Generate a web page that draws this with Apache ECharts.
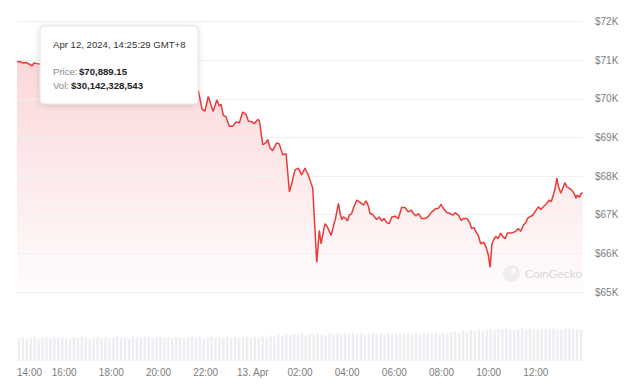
<!DOCTYPE html>
<html>
<head>
<meta charset="utf-8">
<script src="https://cdn.jsdelivr.net/npm/echarts@6/dist/echarts.min.js"></script>
<style>
html,body{margin:0;padding:0;background:#fff;}
#chart{width:644px;height:392px;}
</style>
</head>
<body>
<div id="chart"></div>
<script>
// Hours elapsed since Apr 12, 14:00 (GMT+8)
const hours = [
  0.00,0.13,0.25,0.38,0.51,0.64,0.72,0.85,0.98,
  1.20,1.50,1.80,2.10,2.40,2.70,3.00,3.30,3.60,3.90,4.20,4.50,4.80,5.10,5.40,5.70,6.00,6.30,6.60,6.90,7.20,7.50,
  7.69,7.85,7.97,8.11,8.32,8.47,8.58,8.65,8.75,8.86,9.00,9.15,9.29,9.43,9.57,9.71,9.81,9.95,10.06,10.21,10.28,
  10.42,10.56,10.63,10.73,10.84,11.01,11.12,11.27,11.41,11.55,11.65,11.79,11.93,12.07,12.21,12.35,12.54,
  12.71,12.82,12.89,13.06,13.16,13.32,13.46,13.49,13.63,13.70,13.77,13.84,13.95,14.01,14.09,14.19,14.26,
  14.41,14.55,14.69,14.80,14.90,14.97,15.08,15.25,15.36,15.47,15.56,15.68,15.79,15.89,16.03,16.17,16.31,
  16.45,16.59,16.71,16.81,16.92,17.02,17.16,17.30,17.42,17.59,17.77,17.87,17.98,18.08,18.22,18.36,18.48,
  18.58,18.72,18.83,18.93,19.07,19.18,19.28,19.38,19.47,19.56,19.66,19.78,19.89,19.99,20.06,20.14,20.23,
  20.31,20.40,20.51,20.60,20.70,20.79,20.98,21.16,21.26,21.36,21.47,21.59,21.64,21.73,21.87,22.01,22.11,
  22.21,22.32,22.46,22.57,22.65,22.74,22.82,22.89,22.96,23.06,23.14,23.23,23.31,23.42,23.52,23.62,23.71,
  23.76,23.85,23.92,23.99
];
const prices = [
  70950,70965,70925,70940,70900,70855,70925,70910,70900,
  70890,70850,70910,70820,70760,70800,70720,70650,70700,70610,70560,70620,70540,70480,70520,70430,70380,70450,70360,70300,70340,70240,
  70206,69728,69684,70060,69668,69971,69815,69859,69572,69538,69292,69292,69397,69381,69658,69598,69423,69407,69355,69467,69423,
  68815,68859,68945,68728,68658,68859,68833,68553,68580,67595,67815,68162,68206,68031,68206,68031,67684,
  65768,66595,66248,66770,66681,66465,66812,66856,67292,67031,66875,66943,66901,66838,66987,67031,67162,
  67379,67319,67248,67360,67222,67031,67005,66875,66943,66838,66901,66796,66770,66943,66961,66901,67188,
  67188,67073,67117,67031,66969,67031,66901,66901,66943,67073,67162,67162,67266,67162,67058,67031,66987,
  67047,66987,66856,66901,66901,66812,66640,66666,66551,66465,66248,66290,66160,65943,65637,66248,66378,
  66438,66378,66525,66438,66378,66525,66525,66577,66640,66569,66726,66812,66901,66943,66987,67117,67204,
  67136,67204,67292,67379,67334,67509,67684,67946,67726,67553,67684,67830,67726,67684,67640,67553,67423,
  67509,67449,67553,67553
];
// Volume per 10-minute interval, $M
const volumes = [
  112,118,110,115,120,108,114,117,111,119,113,116,
  115,110,118,112,121,114,109,116,119,113,117,111,
  114,119,112,116,110,118,115,113,120,117,112,116,
  118,113,117,111,119,115,112,116,121,114,118,110,
  116,120,113,117,112,119,115,118,111,117,120,114,
  119,114,122,117,125,120,128,124,131,127,133,129,
  138,126,134,129,136,131,128,135,132,137,130,134,
  133,137,131,136,129,134,138,132,135,130,137,133,
  136,131,135,138,132,136,130,134,137,133,139,135,
  138,134,140,145,137,150,143,152,147,155,149,153,
  156,151,158,153,160,155,152,157,161,154,159,156,
  158,153,160,156,162,157,154,159,161,155,158,152
];
const volStepHours = 24 / volumes.length;
const xTickLabels = ["14:00","16:00","18:00","20:00","22:00","13. Apr","02:00","04:00","06:00","08:00","10:00","12:00","14:00"];
const yTickLabels = {65000:"$65K",66000:"$66K",67000:"$67K",68000:"$68K",69000:"$69K",70000:"$70K",71000:"$71K",72000:"$72K"};
const tipDate = "Apr 12, 2024, 14:25:29 GMT+8";
const tipPriceLabel = "Price:";
const tipPrice = "$70,889.15";
const tipVolLabel = "Vol:";
const tipVol = "$30,142,328,543";

const priceData = hours.map((h, i) => [h, prices[i]]);
const volData = volumes.map((v, i) => [i * volStepHours + volStepHours / 2, v]);

const FONT = "'Liberation Sans', Arial, sans-serif";
const chart = echarts.init(document.getElementById('chart'), null, {renderer: 'svg'});
chart.setOption({
  animation: false,
  backgroundColor: '#fff',
  grid: [
    {left: 17, right: 61, top: 21.5, height: 270.5},
    {left: 17, right: 61, top: 300, height: 61}
  ],
  xAxis: [
    {type: 'value', gridIndex: 0, min: 0, max: 24, interval: 2, show: false},
    {type: 'value', gridIndex: 1, min: 0, max: 24, interval: 2,
     axisLine: {show: false}, axisTick: {show: false}, splitLine: {show: false},
     axisLabel: {color: '#7d7d7d', fontSize: 10, fontFamily: FONT, margin: 6,
       showMaxLabel: false, alignMinLabel: 'left',
       formatter: v => xTickLabels[Math.round(v / 2)]}}
  ],
  yAxis: [
    {type: 'value', gridIndex: 0, position: 'right', min: 65000, max: 72000, interval: 1000, z: 2,
     axisLine: {show: false}, axisTick: {show: false},
     splitLine: {lineStyle: {color: '#efefef', width: 1}},
     axisLabel: {color: '#7d7d7d', fontSize: 10, fontFamily: FONT, margin: 12,
       verticalAlign: 'middle', padding: [0, 0, 9, 0],
       formatter: v => yTickLabels[v] || ''}},
    {type: 'value', gridIndex: 1, min: 0, max: 300, show: false}
  ],
  series: [
    {type: 'line', xAxisIndex: 0, yAxisIndex: 0, data: priceData, symbol: 'none', z: 1,
     lineStyle: {width: 0},
     areaStyle: {color: new echarts.graphic.LinearGradient(0, 0, 0, 1, [
       {offset: 0, color: 'rgba(234,57,67,0.28)'},
       {offset: 1, color: 'rgba(234,57,67,0.02)'}])}},
    {type: 'line', xAxisIndex: 0, yAxisIndex: 0, data: priceData, symbol: 'none', z: 3,
     lineStyle: {color: '#ec3a3a', width: 1.5}},
    {type: 'bar', xAxisIndex: 1, yAxisIndex: 1, data: volData, barWidth: 2.4,
     itemStyle: {color: 'rgba(228,231,237,0.7)'}}
  ],
  graphic: [
    {type: 'circle', z: 50, shape: {cx: 511.5, cy: 273.5, r: 8.5}, style: {fill: '#ededed'}},
    {type: 'circle', z: 51, shape: {cx: 513.5, cy: 271, r: 2.5}, style: {fill: '#f9f9f9'}},
    {type: 'text', z: 51, x: 525, y: 267.5, style: {text: 'CoinGecko', fill: '#d6d6d6', fontSize: 11.5, fontFamily: FONT}},
    {type: 'rect', z: 100, shape: {x: 40, y: 26, width: 158, height: 78, r: 4},
     style: {fill: '#ffffff', stroke: '#e4e4e4', lineWidth: 1,
       shadowBlur: 6, shadowColor: 'rgba(0,0,0,0.14)', shadowOffsetY: 1}},
    {type: 'text', z: 101, x: 53, y: 39, style: {text: tipDate, fill: '#333', fontSize: 9.6, fontFamily: FONT}},
    {type: 'text', z: 101, x: 53, y: 66, style: {text: tipPriceLabel, fill: '#8a8a8a', fontSize: 9.6, fontFamily: FONT}},
    {type: 'text', z: 101, x: 79, y: 66, style: {text: tipPrice, fill: '#222', fontSize: 9.6, fontWeight: 'bold', fontFamily: FONT}},
    {type: 'text', z: 101, x: 53, y: 80, style: {text: tipVolLabel, fill: '#8a8a8a', fontSize: 9.6, fontFamily: FONT}},
    {type: 'text', z: 101, x: 71, y: 80, style: {text: tipVol, fill: '#222', fontSize: 9.6, fontWeight: 'bold', fontFamily: FONT}}
  ]
});
</script>
</body>
</html>
